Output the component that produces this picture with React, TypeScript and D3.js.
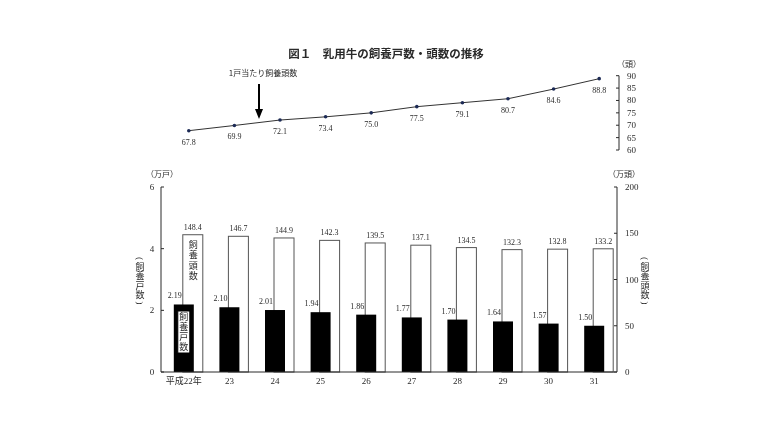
import React, { useEffect, useRef } from 'react';
import * as d3 from 'd3';

const years = ['平成22年', '23', '24', '25', '26', '27', '28', '29', '30', '31'];
const farms = [2.19, 2.10, 2.01, 1.94, 1.86, 1.77, 1.70, 1.64, 1.57, 1.50];
const heads = [148.4, 146.7, 144.9, 142.3, 139.5, 137.1, 134.5, 132.3, 132.8, 133.2];
const perFarm = [67.8, 69.9, 72.1, 73.4, 75.0, 77.5, 79.1, 80.7, 84.6, 88.8];
const leftTicks = [0, 2, 4, 6];
const rightTicks = [0, 50, 100, 150, 200];
const topTicks = [60, 65, 70, 75, 80, 85, 90];

const NUM_FONT = "'Liberation Serif', 'Noto Sans CJK JP', serif";
const JP_FONT = "'Noto Sans CJK JP', sans-serif";
const INK = '#2a2a2a';

type Sel = d3.Selection<SVGSVGElement, unknown, null, undefined>;

// tategaki label, centred on (cx, cy)
function verticalText(svg: Sel, cx: number, cy: number, text: string, size: number, spacing: number) {
  svg.append('text')
    .attr('x', cx).attr('y', cy)
    .attr('text-anchor', 'middle')
    .style('writing-mode', 'vertical-rl')
    .style('letter-spacing', `${spacing}px`)
    .style('font-family', JP_FONT).style('font-size', `${size}px`)
    .attr('fill', INK)
    .text(text);
}

// bracketed vertical axis title: brackets drawn as turned half-width parens
function verticalTitle(svg: Sel, cx: number, cy: number, text: string) {
  const size = 9;
  const len = text.length * (size + 0.5);
  verticalText(svg, cx, cy, text, size, 0.5);
  [['(', cy - len / 2 - 3.5], [')', cy + len / 2 + 3]].forEach(([ch, py]) => {
    svg.append('text')
      .attr('x', cx).attr('y', py as number)
      .attr('text-anchor', 'middle')
      .attr('dominant-baseline', 'central')
      .attr('transform', `rotate(90, ${cx}, ${py})`)
      .style('font-family', "'Liberation Serif', serif")
      .style('font-size', `${size}px`)
      .attr('fill', INK)
      .text(ch as string);
  });
}

const App: React.FC = () => {
  const svgRef = useRef<SVGSVGElement>(null);

  useEffect(() => {
    if (!svgRef.current) return;
    const svg = d3.select(svgRef.current) as Sel;
    svg.selectAll('*').remove();

    svg.append('rect').attr('width', 768).attr('height', 432).attr('fill', '#fff');

    // title
    svg.append('text')
      .attr('x', 386).attr('y', 58)
      .attr('text-anchor', 'middle')
      .style('font-family', JP_FONT)
      .style('font-size', '11.5px')
      .style('font-weight', 'bold')
      .attr('fill', INK)
      .text('図１　乳用牛の飼養戸数・頭数の推移');

    // scales
    const x = d3.scaleBand().domain(years).range([161, 617]);
    const bw = x.bandwidth();
    const yL = d3.scaleLinear().domain([0, 6]).range([372, 187]);
    const yR = d3.scaleLinear().domain([0, 200]).range([372, 187]);
    const yT = d3.scaleLinear().domain([60, 90]).range([150, 75.7]);

    // --- top line chart ---
    const topAxisX = 619;
    svg.append('line')
      .attr('x1', topAxisX).attr('x2', topAxisX)
      .attr('y1', yT(90)).attr('y2', yT(60))
      .attr('stroke', INK).attr('stroke-width', 1);
    topTicks.forEach(t => {
      svg.append('line')
        .attr('x1', topAxisX - 3).attr('x2', topAxisX)
        .attr('y1', yT(t)).attr('y2', yT(t))
        .attr('stroke', INK);
      svg.append('text')
        .attr('x', 627).attr('y', yT(t) + 3)
        .style('font-family', NUM_FONT).style('font-size', '9px')
        .attr('fill', INK).text(t);
    });
    svg.append('text')
      .attr('x', 629).attr('y', 67)
      .attr('text-anchor', 'middle')
      .style('font-family', JP_FONT).style('font-size', '8px')
      .attr('fill', INK).text('（頭）');

    const lx = (i: number) => (x(years[i]) as number) + bw / 2 + 5;
    const line = d3.line<number>()
      .x((_, i) => lx(i))
      .y(d => yT(d));
    svg.append('path')
      .datum(perFarm)
      .attr('d', line)
      .attr('fill', 'none')
      .attr('stroke', '#333')
      .attr('stroke-width', 1);
    perFarm.forEach((v, i) => {
      svg.append('circle')
        .attr('cx', lx(i)).attr('cy', yT(v)).attr('r', 1.8)
        .attr('fill', '#1c2a55');
      svg.append('text')
        .attr('x', lx(i)).attr('y', yT(v) + 14)
        .attr('text-anchor', 'middle')
        .style('font-family', NUM_FONT).style('font-size', '8px')
        .attr('fill', INK).text(v.toFixed(1));
    });

    // annotation + arrow
    svg.append('text')
      .attr('x', 263).attr('y', 76)
      .attr('text-anchor', 'middle')
      .style('font-family', JP_FONT).style('font-size', '8px')
      .attr('fill', INK).text('1戸当たり飼養頭数');
    svg.append('line')
      .attr('x1', 259).attr('x2', 259).attr('y1', 84).attr('y2', 112)
      .attr('stroke', '#000').attr('stroke-width', 2);
    svg.append('path')
      .attr('d', 'M255,109 L259,119 L263,109 Z')
      .attr('fill', '#000');

    // --- bottom bar chart ---
    // white bars (heads) behind
    heads.forEach((v, i) => {
      const cx = (x(years[i]) as number) + bw / 2 + 9;
      svg.append('rect')
        .attr('x', cx - 10).attr('y', yR(v))
        .attr('width', 20).attr('height', yR(0) - yR(v))
        .attr('fill', '#fff').attr('stroke', '#555').attr('stroke-width', 1);
      svg.append('text')
        .attr('x', cx).attr('y', yR(v) - 5)
        .attr('text-anchor', 'middle')
        .style('font-family', NUM_FONT).style('font-size', '8px')
        .attr('fill', INK).text(v.toFixed(1));
    });
    // black bars (farms)
    farms.forEach((v, i) => {
      const cx = (x(years[i]) as number) + bw / 2;
      svg.append('rect')
        .attr('x', cx - 10).attr('y', yL(v))
        .attr('width', 20).attr('height', yL(0) - yL(v))
        .attr('fill', '#000');
      svg.append('text')
        .attr('x', cx - 9).attr('y', yL(v) - 6)
        .attr('text-anchor', 'middle')
        .style('font-family', NUM_FONT).style('font-size', '8px')
        .attr('fill', INK).text(v.toFixed(2));
    });

    // labels inside first bars
    const c0 = (x(years[0]) as number) + bw / 2;
    verticalText(svg, c0 + 9.5, 261, '飼養頭数', 9, 1.5);
    svg.append('rect')
      .attr('x', c0 - 6).attr('y', 311).attr('width', 12).attr('height', 42)
      .attr('fill', '#fff').attr('stroke', '#000').attr('stroke-width', 1);
    verticalText(svg, c0, 332, '飼養戸数', 9, 1);

    // axes
    svg.append('line')
      .attr('x1', 161).attr('x2', 617).attr('y1', 372).attr('y2', 372)
      .attr('stroke', INK);
    svg.append('line')
      .attr('x1', 161).attr('x2', 161).attr('y1', yL(6)).attr('y2', yL(0))
      .attr('stroke', INK);
    svg.append('line')
      .attr('x1', 617).attr('x2', 617).attr('y1', yR(200)).attr('y2', yR(0))
      .attr('stroke', INK);
    leftTicks.forEach(t => {
      svg.append('line')
        .attr('x1', 161).attr('x2', 164).attr('y1', yL(t)).attr('y2', yL(t))
        .attr('stroke', INK);
      svg.append('text')
        .attr('x', 152).attr('y', yL(t) + 3)
        .attr('text-anchor', 'middle')
        .style('font-family', NUM_FONT).style('font-size', '9px')
        .attr('fill', INK).text(t);
    });
    rightTicks.forEach(t => {
      svg.append('line')
        .attr('x1', 614).attr('x2', 617).attr('y1', yR(t)).attr('y2', yR(t))
        .attr('stroke', INK);
      svg.append('text')
        .attr('x', 625).attr('y', yR(t) + 3)
        .style('font-family', NUM_FONT).style('font-size', '9px')
        .attr('fill', INK).text(t);
    });
    svg.append('text')
      .attr('x', 162).attr('y', 177)
      .attr('text-anchor', 'middle')
      .style('font-family', JP_FONT).style('font-size', '8px')
      .attr('fill', INK).text('（万戸）');
    svg.append('text')
      .attr('x', 624).attr('y', 177)
      .attr('text-anchor', 'middle')
      .style('font-family', JP_FONT).style('font-size', '8px')
      .attr('fill', INK).text('（万頭）');

    // vertical axis titles
    verticalTitle(svg, 140, 281, '飼養戸数');
    verticalTitle(svg, 645, 281, '飼養頭数');

    // x labels
    years.forEach(yv => {
      svg.append('text')
        .attr('x', (x(yv) as number) + bw / 2).attr('y', 384)
        .attr('text-anchor', 'middle')
        .style('font-family', NUM_FONT).style('font-size', '9px')
        .attr('fill', INK).text(yv);
    });
  }, []);

  return (
    <div style={{ position: 'fixed', left: 0, top: 0, width: 768, height: 432 }}>
      <svg ref={svgRef} width={768} height={432} style={{ display: 'block', willChange: 'transform' }} />
    </div>
  );
};

export default App;
